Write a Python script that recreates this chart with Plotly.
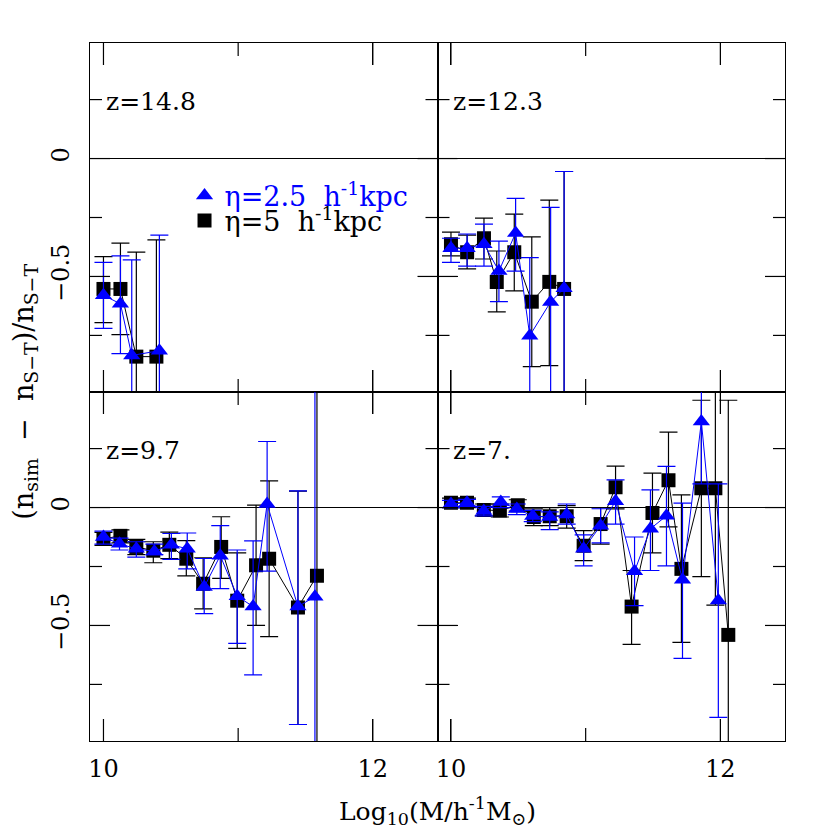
import plotly.graph_objects as go

# ---------------- data ----------------
# z = 14.8
z148_b_x = [10.0, 10.126, 10.244, 10.393]
z148_b_y = [-0.553, -0.553, -0.84, -0.84]
z148_b_hi = [-0.416, -0.359, -0.397, -0.345]
z148_b_lo = [-0.696, -0.747, -1.3, -1.3]
z148_r_x = [10.0, 10.126, 10.21, 10.415]
z148_r_y = [-0.58, -0.616, -0.835, -0.815]
z148_r_hi = [-0.44, -0.413, -0.43, -0.325]
z148_r_lo = [-0.72, -0.827, -1.3, -1.3]

# z = 12.3
z123_b_x = [10.0, 10.12, 10.245, 10.34, 10.47, 10.60, 10.73, 10.84]
z123_b_y = [-0.363, -0.397, -0.338, -0.523, -0.397, -0.607, -0.523, -0.553]
z123_b_hi = [-0.312, -0.325, -0.253, -0.392, -0.236, -0.332, -0.176, -0.055]
z123_b_lo = [-0.413, -0.468, -0.426, -0.65, -0.561, -0.882, -0.878, -1.3]
z123_r_x = [10.0, 10.12, 10.245, 10.356, 10.48, 10.585, 10.74, 10.84]
z123_r_y = [-0.38, -0.38, -0.363, -0.477, -0.316, -0.751, -0.608, -0.55]
z123_r_hi = [-0.338, -0.32, -0.278, -0.35, -0.169, -0.42, -0.207, -0.055]
z123_r_lo = [-0.44, -0.456, -0.456, -0.607, -0.477, -1.3, -1.3, -1.3]

# z = 9.7
z97_b_x = [10.0, 10.126, 10.244, 10.37, 10.489, 10.615, 10.74, 10.874, 10.993, 11.133, 11.23, 11.444, 11.585]
z97_b_y = [-0.133, -0.12, -0.167, -0.183, -0.158, -0.217, -0.323, -0.167, -0.395, -0.245, -0.217, -0.424, -0.289]
z97_b_hi = [-0.105, -0.095, -0.135, -0.145, -0.104, -0.14, -0.213, -0.039, -0.192, 0.01, 0.113, 0.07, 0.7]
z97_b_lo = [-0.16, -0.15, -0.2, -0.234, -0.217, -0.29, -0.43, -0.30, -0.597, -0.5, -0.547, -0.92, -1.3]
z97_r_x = [10.0, 10.119, 10.244, 10.378, 10.504, 10.622, 10.748, 10.867, 10.993, 11.111, 11.215, 11.444, 11.57]
z97_r_y = [-0.125, -0.154, -0.175, -0.186, -0.158, -0.175, -0.337, -0.204, -0.376, -0.42, 0.015, -0.42, -0.378]
z97_r_hi = [-0.10, -0.13, -0.145, -0.155, -0.11, -0.108, -0.216, -0.077, -0.18, -0.141, 0.28, 0.071, 0.7]
z97_r_lo = [-0.155, -0.18, -0.21, -0.2, -0.22, -0.26, -0.45, -0.344, -0.576, -0.71, -0.27, -0.92, -1.3]

# z = 7
z7_b_x = [10.0, 10.119, 10.244, 10.363, 10.496, 10.615, 10.733, 10.859, 10.985, 11.111, 11.222,
          11.341, 11.496, 11.615, 11.711, 11.859, 11.963, 12.059]
z7_b_y = [0.02, 0.02, -0.01, -0.013, 0.01, -0.04, -0.037, -0.037, -0.162, -0.07, 0.086,
          -0.42, -0.023, 0.116, -0.26, 0.082, 0.082, -0.54]
z7_b_hi = [0.04, 0.04, 0.015, 0.015, 0.033, -0.006, 0.0, 0.008, -0.098, 0.0, 0.176,
           -0.267, 0.146, 0.32, 0.054, 0.455, 0.7, 0.455]
z7_b_lo = [0.0, 0.0, -0.035, -0.04, -0.015, -0.077, -0.077, -0.087, -0.225, -0.155, -0.006,
           -0.58, -0.192, -0.082, -0.572, -0.293, -0.414, -1.3]
z7_r_x = [10.0, 10.119, 10.244, 10.37, 10.489, 10.607, 10.733, 10.859, 10.985, 11.111, 11.222,
          11.363, 11.481, 11.6, 11.719, 11.859, 11.985]
z7_r_y = [0.015, 0.02, -0.015, 0.023, -0.006, -0.036, -0.04, -0.03, -0.175, -0.077, 0.027,
          -0.27, -0.09, -0.035, -0.306, 0.365, -0.394]
z7_r_hi = [0.03, 0.035, 0.005, 0.045, 0.015, -0.012, -0.018, 0.015, -0.116, -0.005, 0.117,
           -0.125, 0.075, 0.175, 0.019, 0.7, 0.1]
z7_r_lo = [0.0, 0.005, -0.035, 0.0, -0.03, -0.06, -0.094, -0.07, -0.247, -0.15, -0.07,
           -0.416, -0.267, -0.247, -0.64, 0.1, -0.89]

panel_labels = ["z=14.8", "z=12.3", "z=9.7", "z=7."]
NB = "\u00a0"
legend_blue = "η=2.5" + NB * 2 + "h<sup>-1</sup>kpc"
legend_black = "η=5" + NB * 2 + "h<sup>-1</sup>kpc"
x_ticks = [10, 12]
x_minor = [11]
y_ticks = [0, -0.5]
y_ticklabels = ["0", "−0.5"]
y_minor = [0.25, -0.25, -0.75]
x_title = "Log<sub>10</sub>(M/h<sup>-1</sup>M<sub>⊙</sub>)"
y_title = "(n<sub>sim</sub>" + NB * 2 + "−" + NB * 2 + "n<sub>S−T</sub>)/n<sub>S−T</sub>"

X_RANGE = [9.9, 12.48]
Y_RANGE = [-0.99, 0.49]

# ---------------- figure ----------------
FONT = "DejaVu Serif"
BLUE = "#0000ff"
fig = go.Figure()

panels = [
    (z148_b_x, z148_b_y, z148_b_hi, z148_b_lo, z148_r_x, z148_r_y, z148_r_hi, z148_r_lo),
    (z123_b_x, z123_b_y, z123_b_hi, z123_b_lo, z123_r_x, z123_r_y, z123_r_hi, z123_r_lo),
    (z97_b_x, z97_b_y, z97_b_hi, z97_b_lo, z97_r_x, z97_r_y, z97_r_hi, z97_r_lo),
    (z7_b_x, z7_b_y, z7_b_hi, z7_b_lo, z7_r_x, z7_r_y, z7_r_hi, z7_r_lo),
]

for i, (bx, by, bhi, blo, rx, ry, rhi, rlo) in enumerate(panels):
    sfx = "" if i == 0 else str(i + 1)
    xa, ya = "x" + sfx, "y" + sfx
    fig.add_trace(go.Scatter(x=bx, y=by, mode="lines", xaxis=xa, yaxis=ya, showlegend=False,
                             hoverinfo="skip", line=dict(color="black", width=1)))
    fig.add_trace(go.Scatter(
        x=bx, y=by, mode="markers", xaxis=xa, yaxis=ya,
        name=legend_black, legend="legend2", showlegend=(i == 0),
        marker=dict(symbol="square", size=14, color="black"),
        error_y=dict(type="data", symmetric=False,
                     array=[h - v for h, v in zip(bhi, by)],
                     arrayminus=[v - l for v, l in zip(by, blo)],
                     color="black", thickness=1.2, width=9),
    ))
    fig.add_trace(go.Scatter(x=rx, y=ry, mode="lines", xaxis=xa, yaxis=ya, showlegend=False,
                             hoverinfo="skip", line=dict(color=BLUE, width=1)))
    fig.add_trace(go.Scatter(
        x=rx, y=ry, mode="markers", xaxis=xa, yaxis=ya,
        name=legend_blue, legend="legend", showlegend=(i == 0),
        marker=dict(symbol="triangle-up", size=15, color=BLUE),
        error_y=dict(type="data", symmetric=False,
                     array=[h - v for h, v in zip(rhi, ry)],
                     arrayminus=[v - l for v, l in zip(ry, rlo)],
                     color=BLUE, thickness=1.2, width=9),
    ))

xdom = [[0, 0.5], [0.5, 1], [0, 0.5], [0.5, 1]]
ydom = [[0.5, 1], [0.5, 1], [0, 0.5], [0, 0.5]]
PANEL_W, PANEL_H = 347.5, 349.0     # pixel size of one panel
tick_style = dict(color="black", width=1.2)

for i in range(4):
    sfx = "" if i == 0 else str(i + 1)
    xa, ya = "x" + sfx, "y" + sfx
    fig.layout["xaxis" + sfx] = dict(
        domain=xdom[i], range=X_RANGE, anchor=ya,
        tickmode="array", tickvals=x_ticks, ticktext=[str(t) for t in x_ticks],
        showticklabels=(i >= 2), ticks="inside", ticklen=22, tickwidth=1.2,
        tickcolor="black", mirror="ticks", showline=True, linecolor="black",
        linewidth=1, showgrid=False, zeroline=False,
        tickfont=dict(family=FONT, size=24, color="black"), ticklabelstandoff=6,
    )
    fig.layout["yaxis" + sfx] = dict(
        domain=ydom[i], range=Y_RANGE, anchor=xa,
        tickmode="array", tickvals=y_ticks, ticktext=y_ticklabels,
        showticklabels=(i % 2 == 0), ticks="inside", ticklen=20, tickwidth=1.2,
        tickcolor="black", mirror="ticks", showline=True, linecolor="black",
        linewidth=1, showgrid=False, zeroline=True, zerolinecolor="black",
        zerolinewidth=1.2, tickangle=-90,
        tickfont=dict(family=FONT, size=24, color="black"), ticklabelstandoff=10,
    )
    # tick marks on all four sides, placed through the axes' own scales
    for vals, ln in ((x_ticks, 22), (x_minor, 13)):
        f = ln / PANEL_H
        for t in vals:
            fig.add_shape(type="line", xref=xa, yref=ya + " domain", x0=t, x1=t, y0=0, y1=f,
                          line=tick_style, layer="above")
            fig.add_shape(type="line", xref=xa, yref=ya + " domain", x0=t, x1=t, y0=1, y1=1 - f,
                          line=tick_style, layer="above")
    for vals, ln in ((y_ticks, 20), (y_minor, 12)):
        f = ln / PANEL_W
        for t in vals:
            fig.add_shape(type="line", xref=xa + " domain", yref=ya, x0=0, x1=f, y0=t, y1=t,
                          line=tick_style, layer="above")
            fig.add_shape(type="line", xref=xa + " domain", yref=ya, x0=1, x1=1 - f, y0=t, y1=t,
                          line=tick_style, layer="above")
    fig.add_annotation(
        text=panel_labels[i], xref=(xa + " domain"), yref=ya,
        x=0.04, y=0.24, xanchor="left", yanchor="middle", showarrow=False,
        font=dict(family=FONT, size=25, color="black"),
    )

fig.add_annotation(text=x_title, xref="paper", yref="paper", x=0.5, y=-0.072,
                   xanchor="center", yanchor="top", showarrow=False,
                   font=dict(family=FONT, size=25, color="black"))
fig.add_annotation(text=y_title, xref="paper", yref="paper", x=-0.094, y=0.5,
                   xanchor="center", yanchor="middle", textangle=-90, showarrow=False,
                   font=dict(family=FONT, size=27, color="black"))

fig.update_layout(
    width=822, height=822,
    margin=dict(l=82, r=45, t=35, b=89),
    paper_bgcolor="white", plot_bgcolor="white",
    legend=dict(x=0.136, y=0.781, xanchor="left", yanchor="middle",
                bgcolor="rgba(0,0,0,0)", font=dict(family=FONT, size=27, color=BLUE)),
    legend2=dict(x=0.136, y=0.745, xanchor="left", yanchor="middle",
                 bgcolor="rgba(0,0,0,0)", font=dict(family=FONT, size=27, color="black")),
)

fig.write_html("out.html")
